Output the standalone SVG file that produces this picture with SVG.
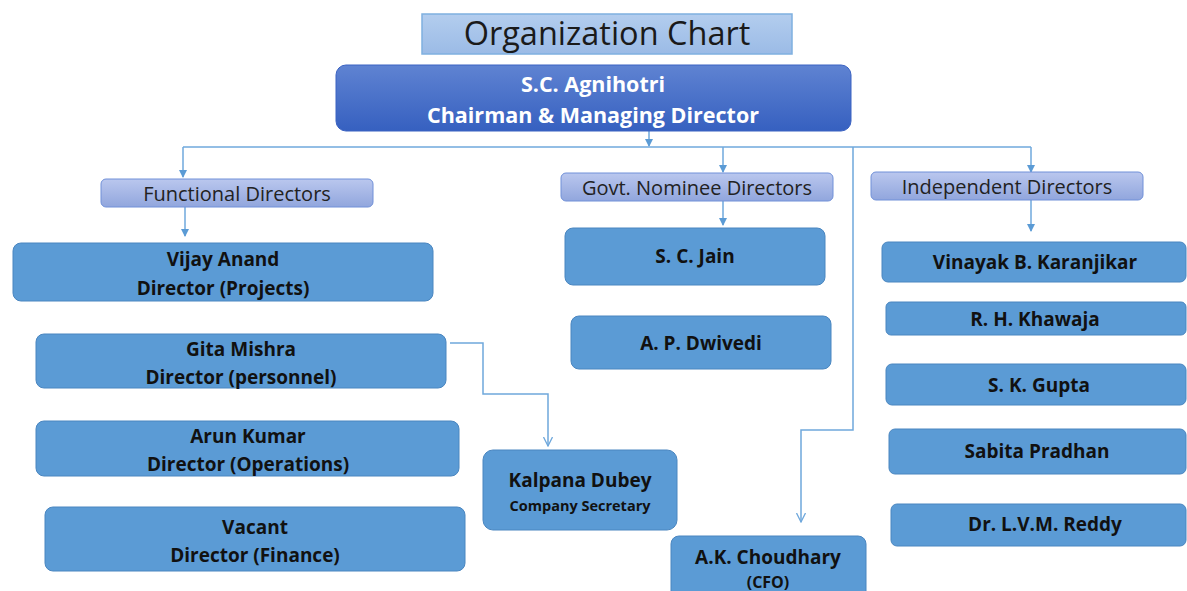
<svg xmlns="http://www.w3.org/2000/svg" width="1187" height="591" viewBox="0 0 1187 591">
<defs>
<linearGradient id="gTitle" x1="0" y1="0" x2="0" y2="1"><stop offset="0" stop-color="#b3cdee"/><stop offset="1" stop-color="#9bbbe6"/></linearGradient>
<linearGradient id="gTop" x1="0" y1="0" x2="0" y2="1"><stop offset="0" stop-color="#5f83d2"/><stop offset="1" stop-color="#3660c0"/></linearGradient>
<linearGradient id="gCat" x1="0" y1="0" x2="0" y2="1"><stop offset="0" stop-color="#bac7ee"/><stop offset="1" stop-color="#91a6dd"/></linearGradient>
<marker id="ah" markerWidth="8" markerHeight="8" refX="7" refY="4" orient="auto" markerUnits="userSpaceOnUse"><path d="M0,0 L8,4 L0,8 Z" fill="#5b9bd5"/></marker>
<marker id="av" markerWidth="10" markerHeight="10" refX="9" refY="5" orient="auto" markerUnits="userSpaceOnUse"><path d="M0,0.5 L9,5 L0,9.5" fill="none" stroke="#6fa8dc" stroke-width="1.3"/></marker>
</defs>
<style>
.t{font-family:"Open Sans","Liberation Sans",sans-serif;text-anchor:middle}
.n{fill:#5b9bd5;stroke:#4a86c0;stroke-width:1}
.c{fill:url(#gCat);stroke:#7090d8;stroke-width:1}
.lb{font-family:"Open Sans","Liberation Sans",sans-serif;font-weight:bold;font-size:19px;fill:#111;text-anchor:middle}
.cl{font-family:"Open Sans","Liberation Sans",sans-serif;font-size:20px;fill:#222;text-anchor:middle}
.ln{fill:none;stroke:#6fa8dc;stroke-width:1.5}
</style>
<rect width="1187" height="591" fill="#ffffff"/>

<g id="title">
<rect x="422" y="14" width="370" height="40" fill="url(#gTitle)" stroke="#7fb0e0" stroke-width="1.5"/>
<text class="t" x="607" y="45" font-size="32.5" fill="#1a1a1a">Organization Chart</text>
</g>

<g id="connectors">
<path class="ln" d="M649,131 V146" marker-end="url(#ah)"/>
<path class="ln" d="M183,147 H1031"/>
<path class="ln" d="M183,147 V177" marker-end="url(#ah)"/>
<path class="ln" d="M185,207 V236" marker-end="url(#ah)"/>
<path class="ln" d="M723,147 V172" marker-end="url(#ah)"/>
<path class="ln" d="M723,201 V225" marker-end="url(#ah)"/>
<path class="ln" d="M1031,147 V172" marker-end="url(#ah)"/>
<path class="ln" d="M1031,200 V231" marker-end="url(#ah)"/>
<path class="ln" d="M853,147 V430 H801 V522" marker-end="url(#av)"/>
<path class="ln" d="M450,343 H483 V394 H548 V446" marker-end="url(#av)"/>
</g>

<g id="chairman">
<rect x="336" y="65" width="515" height="66" rx="10" fill="url(#gTop)" stroke="#3a62c2" stroke-width="1"/>
<text class="t" x="593" y="92" font-size="21.5" font-weight="bold" fill="#ffffff">S.C. Agnihotri</text>
<text class="t" x="593" y="123" font-size="21.5" font-weight="bold" fill="#ffffff">Chairman &amp; Managing Director</text>
</g>

<g id="functional">
<rect class="c" x="101" y="179" width="272" height="28" rx="5"/>
<text class="cl" x="237" y="201">Functional Directors</text>
</g>
<g id="govt">
<rect class="c" x="561" y="173" width="272" height="28" rx="5"/>
<text class="cl" x="697" y="195">Govt. Nominee Directors</text>
</g>
<g id="independent">
<rect class="c" x="871" y="172" width="272" height="28" rx="5"/>
<text class="cl" x="1007" y="194">Independent Directors</text>
</g>

<g id="vijay">
<rect class="n" x="13" y="243" width="420" height="58" rx="8"/>
<text class="lb" x="223" y="266">Vijay Anand</text>
<text class="lb" x="223" y="295">Director (Projects)</text>
</g>
<g id="gita">
<rect class="n" x="36" y="334" width="410" height="54" rx="8"/>
<text class="lb" x="241" y="356">Gita Mishra</text>
<text class="lb" x="241" y="384">Director (personnel)</text>
</g>
<g id="arun">
<rect class="n" x="36" y="421" width="423" height="55" rx="8"/>
<text class="lb" x="248" y="443">Arun Kumar</text>
<text class="lb" x="248" y="471">Director (Operations)</text>
</g>
<g id="vacant">
<rect class="n" x="45" y="507" width="420" height="64" rx="8"/>
<text class="lb" x="255" y="534">Vacant</text>
<text class="lb" x="255" y="562">Director (Finance)</text>
</g>

<g id="jain">
<rect class="n" x="565" y="228" width="260" height="57" rx="8"/>
<text class="lb" x="695" y="263">S. C. Jain</text>
</g>
<g id="dwivedi">
<rect class="n" x="571" y="316" width="260" height="53" rx="8"/>
<text class="lb" x="701" y="350">A. P. Dwivedi</text>
</g>

<g id="kalpana">
<rect class="n" x="483" y="450" width="194" height="80" rx="10"/>
<text class="lb" x="580" y="487">Kalpana Dubey</text>
<text class="t" x="580" y="511" font-size="14.5" font-weight="bold" fill="#111">Company Secretary</text>
</g>
<g id="choudhary">
<rect class="n" x="671" y="536" width="195" height="70" rx="8"/>
<text class="lb" x="768" y="564">A.K. Choudhary</text>
<text class="t" x="768" y="588" font-size="16" font-weight="bold" fill="#111">(CFO)</text>
</g>

<g id="vinayak">
<rect class="n" x="882" y="242" width="304" height="40" rx="6"/>
<text class="lb" x="1035" y="269">Vinayak B. Karanjikar</text>
</g>
<g id="khawaja">
<rect class="n" x="886" y="302" width="300" height="33" rx="5"/>
<text class="lb" x="1035" y="326">R. H. Khawaja</text>
</g>
<g id="gupta">
<rect class="n" x="886" y="364" width="300" height="41" rx="6"/>
<text class="lb" x="1039" y="392">S. K. Gupta</text>
</g>
<g id="sabita">
<rect class="n" x="889" y="429" width="297" height="45" rx="6"/>
<text class="lb" x="1037" y="458">Sabita Pradhan</text>
</g>
<g id="reddy">
<rect class="n" x="891" y="504" width="295" height="42" rx="6"/>
<text class="lb" x="1045" y="531">Dr. L.V.M. Reddy</text>
</g>
</svg>
